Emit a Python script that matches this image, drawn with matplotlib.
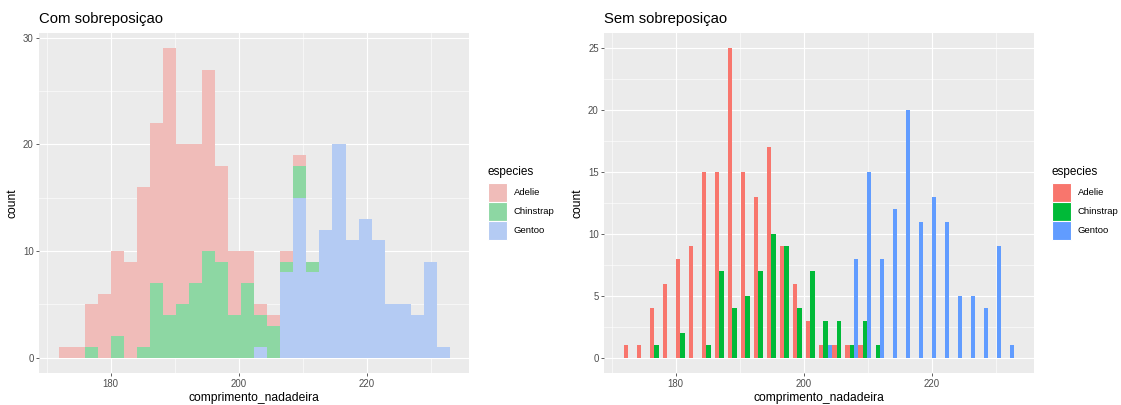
import numpy as np
import matplotlib
matplotlib.use("Agg")
import matplotlib.pyplot as plt
from matplotlib.patches import Rectangle
from matplotlib.colors import to_rgb

# Flipper length histogram counts (30 bins) per species
species = ["Adelie", "Chinstrap", "Gentoo"]
adelie = [1, 1, 4, 6, 8, 9, 15, 15, 25, 15, 13, 17, 9, 6, 3,
          1, 1, 1, 1, 0, 0, 0, 0, 0, 0, 0, 0, 0, 0, 0]
chinstrap = [0, 0, 1, 0, 2, 0, 1, 7, 4, 5, 7, 10, 9, 4, 7,
             3, 3, 1, 3, 1, 0, 0, 0, 0, 0, 0, 0, 0, 0, 0]
gentoo = [0, 0, 0, 0, 0, 0, 0, 0, 0, 0, 0, 0, 0, 0, 0,
          1, 0, 8, 15, 8, 12, 20, 11, 13, 11, 5, 5, 4, 9, 1]
flipper_min, flipper_max, n_bins = 172, 231, 30

colors = ["#F8766D", "#00BA38", "#619CFF"]
panel_bg = "#EBEBEB"
fill_alpha = 0.4

titles = ["Com sobreposiçao", "Sem sobreposiçao"]
x_label = "comprimento_nadadeira"
y_label = "count"
legend_title = "especies"

# Bin edges in the same layout ggplot2 uses for bins = 30
width = (flipper_max - flipper_min) / (n_bins - 1)
boundary = width / 2
shift = np.floor((flipper_min - boundary) / width)
origin = boundary + shift * width
edges = origin + np.arange(n_bins + 1) * width
centers = (edges[:-1] + edges[1:]) / 2

counts = np.array([adelie, chinstrap, gentoo], dtype=float)

plt.rcParams["font.family"] = ["Liberation Sans", "DejaVu Sans"]

W, H = 1121, 405
fig = plt.figure(figsize=(W / 100, H / 100), dpi=100)
fig.patch.set_facecolor("white")


def px_box(x0, y0, x1, y1):
    return [x0 / W, 1 - y1 / H, (x1 - x0) / W, (y1 - y0) / H]


def blend(c, a, bg=panel_bg):
    c = np.array(to_rgb(c))
    b = np.array(to_rgb(bg))
    return tuple(a * c + (1 - a) * b)


def style_axes(ax, ymax, ymajor):
    ax.set_facecolor(panel_bg)
    for s in ax.spines.values():
        s.set_visible(False)
    span = edges[-1] - edges[0]
    ax.set_xlim(edges[0] - 0.05 * span, edges[-1] + 0.05 * span)
    lo, hi = -0.05 * ymax, ymax * 1.05
    ax.set_ylim(lo, hi)
    ax.set_xticks([180, 200, 220])
    ax.set_xticks([170, 190, 210, 230], minor=True)
    major = np.arange(0, hi, ymajor)
    minor = (major + ymajor / 2)
    minor = minor[minor < hi]
    ax.set_yticks(major)
    ax.set_yticks(minor, minor=True)
    ax.set_yticklabels([f"{v:g}" for v in major])
    ax.grid(which="major", color="white", linewidth=0.85)
    ax.grid(which="minor", color="white", linewidth=0.42)
    ax.set_axisbelow(True)
    ax.tick_params(which="major", length=2.2, width=0.55, color="#333333",
                   labelsize=6.9, labelcolor="#4D4D4D", pad=1.8)
    ax.tick_params(which="minor", length=0)
    ax.set_xlabel(x_label, fontsize=8.7, labelpad=2.2)
    ax.set_ylabel(y_label, fontsize=8.7, labelpad=3)


def draw_legend(x_left, key_colors):
    fig.text((x_left - 1) / W, 1 - 175 / H, legend_title, fontsize=8.5,
             va="baseline", ha="left")
    key_w, pitch, y0 = 18.4, 19.3, 182.5
    for i, (name, c) in enumerate(zip(species, key_colors)):
        top = y0 + i * pitch
        fig.add_artist(Rectangle((x_left / W, 1 - (top + pitch) / H),
                                 key_w / W, pitch / H,
                                 transform=fig.transFigure,
                                 facecolor=c, edgecolor="white",
                                 linewidth=0.8))
        fig.text((x_left + 25.5) / W, 1 - (top + pitch / 2) / H, name,
                 fontsize=6.8, va="center", ha="left")


# Left panel: stacked histogram with translucent fills
ax1 = fig.add_axes(px_box(39.3, 32.7, 469.3, 373.3))
light = [blend(c, fill_alpha) for c in colors]
bottom = np.zeros(n_bins)
for idx in [2, 1, 0]:
    ax1.bar(centers, counts[idx], width=width, bottom=bottom,
            color=light[idx], linewidth=0, align="center")
    bottom += counts[idx]
style_axes(ax1, counts.sum(axis=0).max(), 10)
ax1.set_title(titles[0], loc="left", fontsize=10.7, pad=6.8)
draw_legend(488.3, light)

# Right panel: dodged histogram
ax2 = fig.add_axes(px_box(604.3, 32.7, 1034.0, 373.3))
sub = width / 3
for idx in range(3):
    ax2.bar(centers + (idx - 1) * sub, counts[idx], width=sub,
            color=colors[idx], linewidth=0, align="center")
style_axes(ax2, counts.max(), 5)
ax2.set_title(titles[1], loc="left", fontsize=10.7, pad=6.8)
draw_legend(1052.3, colors)

fig.savefig("out.png", dpi=100)
